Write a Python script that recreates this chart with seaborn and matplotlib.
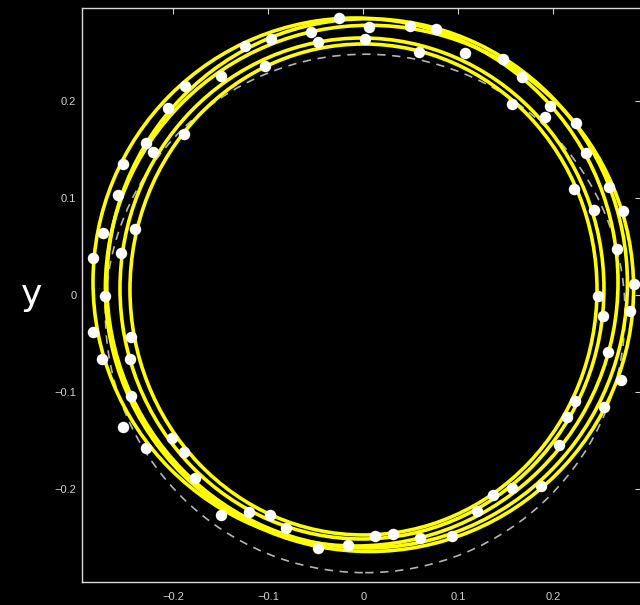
import numpy as np
import pandas as pd
import matplotlib
matplotlib.use("Agg")
import matplotlib.pyplot as plt
from matplotlib.patches import Ellipse
import seaborn as sns

# Orbit loops (centre, width, height in data units)
loop_cx = [-0.0082, 0.0065, -0.0014, 0.0002, 0.0040]
loop_cy = [0.0134, 0.0068, 0.0067, 0.0057, 0.0120]
loop_w = [0.5526, 0.5560, 0.5094, 0.4916, 0.5480]
loop_h = [0.5438, 0.5420, 0.5160, 0.5057, 0.5450]

# Reference (dashed) orbit
ref_cx, ref_cy, ref_w, ref_h = 0.0020, -0.019, 0.547, 0.534

# Sampled positions (white dots)
dot_x = [-0.026, -0.055, -0.048, 0.002, 0.006, -0.125, -0.097, -0.150, -0.103, -0.188,
         -0.206, -0.189, -0.229, -0.221, -0.253, -0.258, -0.240, -0.274, -0.284, -0.255,
         -0.272, 0.049, 0.077, 0.059, 0.107, 0.147, 0.167, 0.156, 0.197, 0.191,
         0.224, 0.234, 0.259, 0.222, 0.243, 0.273, 0.267, 0.285, 0.247, -0.284,
         -0.244, -0.275, -0.246, -0.244, -0.253, -0.201, -0.229, -0.189, -0.177, -0.150,
         -0.120, -0.098, -0.081, -0.048, -0.016, 0.012, 0.031, 0.060, 0.093, 0.120,
         0.136, 0.157, 0.187, 0.206, 0.214, 0.223, 0.253, 0.271, 0.258, 0.252, 0.281]
dot_y = [0.285, 0.271, 0.261, 0.264, 0.276, 0.256, 0.264, 0.226, 0.236, 0.215,
         0.193, 0.166, 0.157, 0.147, 0.135, 0.103, 0.068, 0.064, 0.038, 0.043,
         -0.001, 0.277, 0.274, 0.250, 0.249, 0.243, 0.225, 0.197, 0.195, 0.183,
         0.177, 0.146, 0.111, 0.109, 0.088, 0.087, 0.047, 0.011, -0.001, -0.038,
         -0.043, -0.066, -0.066, -0.104, -0.136, -0.147, -0.158, -0.162, -0.188, -0.227,
         -0.223, -0.227, -0.240, -0.261, -0.258, -0.248, -0.246, -0.250, -0.248, -0.222,
         -0.206, -0.199, -0.197, -0.154, -0.126, -0.109, -0.115, -0.088, -0.059, -0.022, -0.016]

x_ticks = [-0.2, -0.1, 0.0, 0.1, 0.2]
x_tick_labels = ["\u22120.2", "\u22120.1", "0", "0.1", "0.2"]
y_ticks = [-0.2, -0.1, 0.0, 0.1, 0.2]
y_tick_labels = ["\u22120.2", "\u22120.1", "0", "0.1", "0.2"]

sns.set_style("dark")
plt.rcParams["font.family"] = ["Liberation Sans", "DejaVu Sans"]

fig = plt.figure(figsize=(6.4, 6.05), dpi=100, facecolor="black")
ax = fig.add_axes([82 / 640, 23 / 605, 559 / 640, 574 / 605])
ax.set_facecolor("black")

# dashed reference orbit
ax.add_patch(Ellipse((ref_cx, ref_cy), ref_w, ref_h, fill=False,
                     edgecolor="#b4b4b4", linewidth=1.2, linestyle=(0, (5, 4)), zorder=1))

# yellow orbit loops
for cx, cy, w, h in zip(loop_cx, loop_cy, loop_w, loop_h):
    ax.add_patch(Ellipse((cx, cy), w, h, fill=False, edgecolor="#ffff00",
                         linewidth=2.6, zorder=2))

df = pd.DataFrame({"x": dot_x, "y": dot_y})
sns.scatterplot(data=df, x="x", y="y", color="white", s=68, linewidth=0,
                ax=ax, zorder=3, legend=False)

ax.set_xlim(-0.2961, 0.2923)
ax.set_ylim(-0.2956, 0.2956)
ax.set_xticks(x_ticks)
ax.set_xticklabels(x_tick_labels)
ax.set_yticks(y_ticks)
ax.set_yticklabels(y_tick_labels)
ax.grid(False)
ax.tick_params(direction="in", length=4, width=0.8, color="#d0d0d0",
               labelcolor="#d0d0d0", labelsize=8, top=True, right=True)
ax.tick_params(axis="x", pad=7)
ax.tick_params(axis="y", pad=4)
for sp in ax.spines.values():
    sp.set_visible(True)
    sp.set_color("#d8d8d8")
    sp.set_linewidth(1.0)

ax.set_xlabel("")
ax.set_ylabel("y", rotation=0, fontsize=26, color="white",
              family=["DejaVu Sans"], va="center", ha="center")
ax.yaxis.set_label_coords(-50 / 559, 0.5)

fig.savefig("out.png", dpi=100, facecolor="black")
